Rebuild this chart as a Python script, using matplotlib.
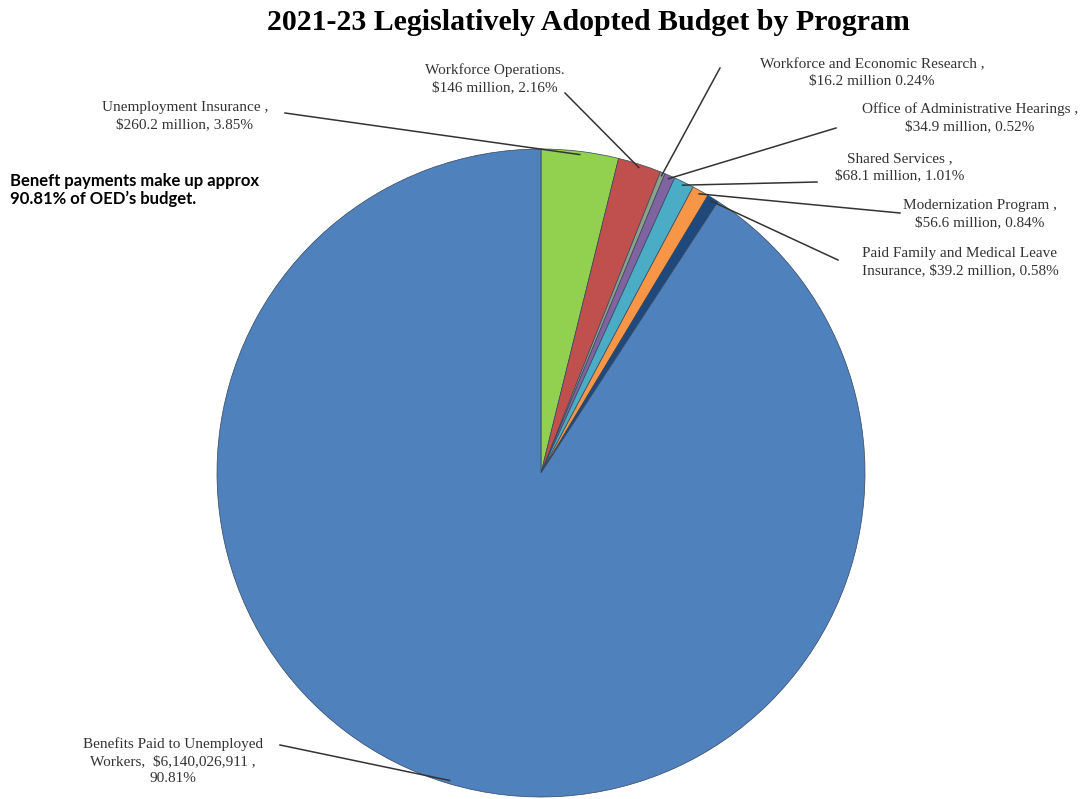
import numpy as np
import matplotlib
matplotlib.use("Agg")
import matplotlib.pyplot as plt

# budget data, clockwise from 12 o'clock
labels = [
    "Unemployment Insurance ,\n$260.2 million, 3.85%",
    "Workforce Operations.\n$146 million, 2.16%",
    "Workforce and Economic Research ,\n$16.2 million 0.24%",
    "Office of Administrative Hearings ,\n$34.9 million, 0.52%",
    "Shared Services ,\n$68.1 million, 1.01%",
    "Modernization Program ,\n$56.6 million, 0.84%",
    "Paid Family and Medical Leave\nInsurance, $39.2 million, 0.58%",
    "Benefits Paid to Unemployed\nWorkers,  $6,140,026,911 ,\n90.81%",
]
shares = [3.85, 2.16, 0.24, 0.52, 1.01, 0.84, 0.58, 90.81]
colors = ["#92D050", "#C0504D", "#8FA08A", "#8064A2", "#4BACC6",
          "#F79646", "#1F497D", "#4F81BD"]

W, H = 1092, 799
fig = plt.figure(figsize=(W / 100, H / 100), dpi=100)
ax = fig.add_axes([0, 0, 1, 1])
ax.set_xlim(0, W)
ax.set_ylim(0, H)
ax.set_aspect("equal")
ax.axis("off")

def py(y):
    # pixel row (from top) -> data y
    return H - y

cx, cy, r = 541, 473, 324
wedges, _ = ax.pie(shares, colors=colors, startangle=90, counterclock=False,
                   center=(cx, py(cy)), radius=r,
                   wedgeprops=dict(edgecolor="#34475c", linewidth=0.5))
ax.set_xlim(0, W)
ax.set_ylim(0, H)

# label text centres and leader-line start points (pixels from top)
text_pos = [(185, 116), (495, 79), (872, 73), (970, 118), (900, 167),
            (980, 214), (960, 262), (173, 761)]
line_start = [(285, 113), (565, 93), (720, 68), (836, 128), (817, 182),
              (900, 213), (838, 260), (280, 745)]

serif = ["Liberation Serif", "DejaVu Serif"]
for w, lab, (tx, ty), (lx, ly) in zip(wedges, labels, text_pos, line_start):
    ang = np.deg2rad((w.theta1 + w.theta2) / 2)
    ex = cx + r * 0.99 * np.cos(ang)
    ey = py(cy) + r * 0.99 * np.sin(ang)
    ax.plot([lx, ex], [py(ly), ey], color="#333333", lw=1.1, zorder=5)
    ax.text(tx, py(ty), lab, ha="center", va="center", fontsize=11,
            family=serif, color="#333333", linespacing=1.4)

ax.text(588, py(23), "2021-23 Legislatively Adopted Budget by Program",
        ha="center", va="center", fontsize=21.5, fontweight="bold",
        family=serif, color="black")

ax.text(10, py(190), "Beneft payments make up approx\n90.81% of OED\u2019s budget.",
        ha="left", va="center", fontsize=12, fontweight="bold",
        family=["Lato", "DejaVu Sans"], color="black", linespacing=1.2)

fig.savefig("out.png", dpi=100)
